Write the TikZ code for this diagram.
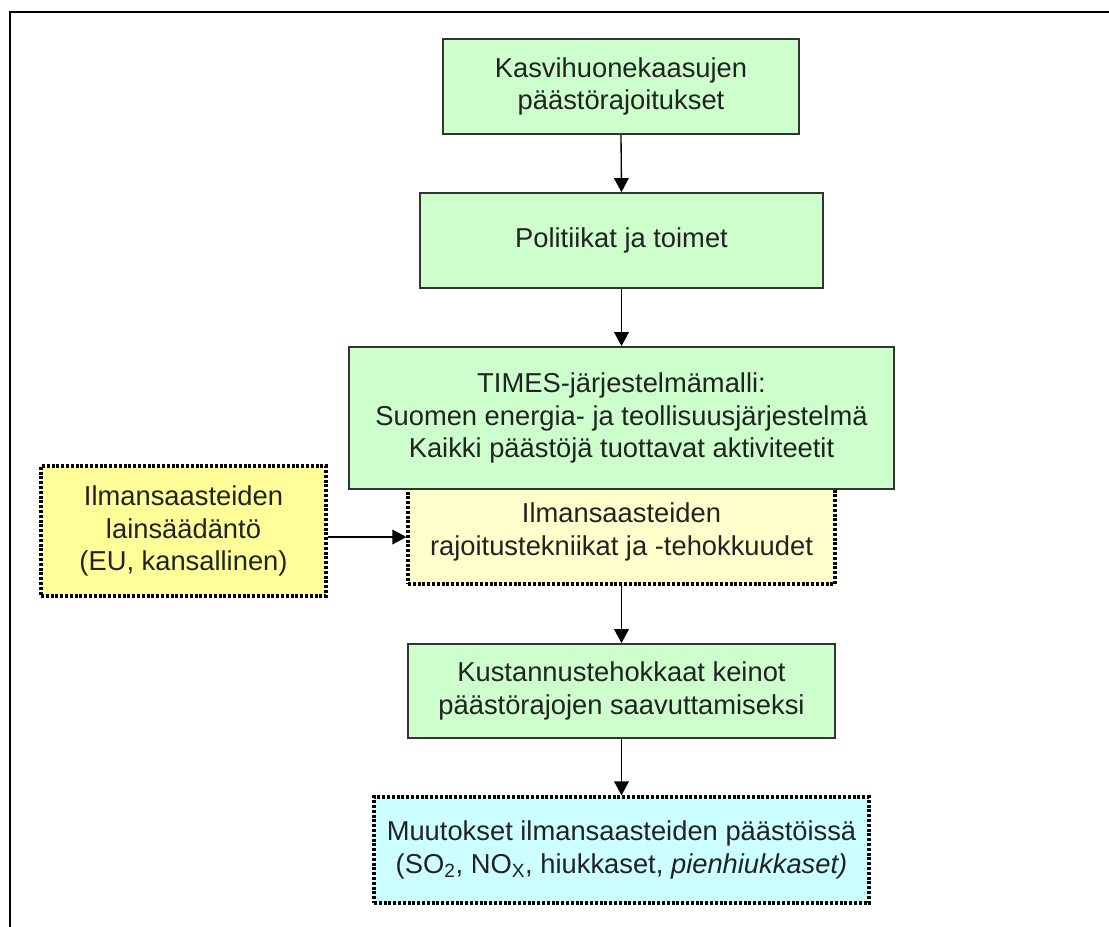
\documentclass[tikz,border=0pt]{standalone}
\usepackage{fontspec}
\setmainfont{Liberation Sans}
\usetikzlibrary{arrows.meta}
\definecolor{boxgreen}{HTML}{CCFFCC}
\definecolor{paleyellow}{HTML}{FFFFCC}
\definecolor{lawyellow}{HTML}{FFFF99}
\definecolor{palecyan}{HTML}{CCFFFF}
\definecolor{txt}{HTML}{222222}
\definecolor{edge}{HTML}{333333}
\begin{document}
\begin{tikzpicture}[x=0.75pt,y=-0.75pt,
  every node/.style={font=\fontsize{20.5}{24.5}\selectfont, text=txt, align=center, inner sep=0pt},
  solidbox/.style={draw=edge, line width=1.3pt, fill=boxgreen},
  dotbox/.style={draw=black, line width=2.4pt, dash pattern=on 2.3pt off 1.3pt},
  arr/.style={draw=black, line width=1pt, -{Triangle[length=10.5pt,width=11pt]}},
  frame/.style={line width=2pt}]
\useasboundingbox (0,0) rectangle (1109,927);
\draw[frame] (10,927) -- (10,12) -- (1109,12);

\node[solidbox, minimum width=267pt, minimum height=71.25pt] (b1) at (621,86.5)
  {Kasvihuonekaasujen\\päästörajoitukset};
\node[solidbox, minimum width=302.25pt, minimum height=71.25pt] (b2) at (621.5,240.5)
  {Politiikat ja toimet};
\node[dotbox, fill=paleyellow, minimum width=320.25pt, minimum height=78pt] (b4) at (621.5,532)
  {Ilmansaasteiden\\rajoitustekniikat ja -tehokkuudet};
\node[solidbox, minimum width=408.75pt, minimum height=106.5pt] (b3) at (621.5,418)
  {TIMES-järjestelmämalli:\\Suomen energia- ja teollisuusjärjestelmä\\Kaikki päästöjä tuottavat aktiviteetit};
\node[dotbox, fill=lawyellow, minimum width=213.75pt, minimum height=97.5pt] (b5) at (183.5,531)
  {Ilmansaasteiden\\lainsäädäntö\\(EU, kansallinen)};
\node[solidbox, minimum width=320.25pt, minimum height=70.5pt] (b6) at (621.5,691)
  {Kustannustehokkaat keinot\\päästörajojen saavuttamiseksi};
\node[dotbox, fill=palecyan, minimum width=371.25pt, minimum height=79.5pt] (b7) at (621.5,850)
  {Muutokset ilmansaasteiden päästöissä\\(SO\textsubscript{2}, NO\textsubscript{X}, hiukkaset, \textit{pienhiukkaset)}};

\draw[arr] (b1.south) -- (b2.north);
\draw[arr] (b2.south) -- (b3.north);
\draw[arr] ([yshift=-4.5pt]b5.east) -- ([yshift=-3.75pt]b4.west);
\draw[arr] (b4.south) -- (b6.north);
\draw[arr] (b6.south) -- (b7.north);
\end{tikzpicture}
\end{document}
